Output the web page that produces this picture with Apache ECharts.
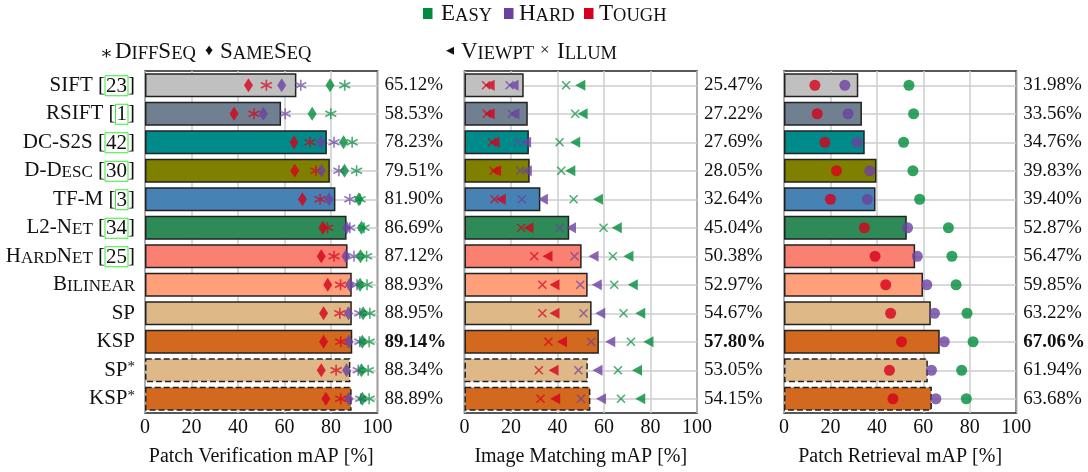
<!DOCTYPE html>
<html><head><meta charset="utf-8">
<script src="https://cdn.jsdelivr.net/npm/echarts@6/dist/echarts.min.js"></script>
<style>html,body{margin:0;padding:0;background:#fff}#c{width:1088px;height:472px}</style>
</head><body><div id="c"></div>
<script>
// ---------- data ----------
const methods = ['SIFT','RSIFT','DC-S2S','D-Desc','TF-M','L2-Net','HardNet','Bilinear','SP','KSP','SP*','KSP*'];
const cites = ['23','1','42','30','3','34','25','','','','',''];
const boldRow = 'KSP';
const xTicks = [0,20,40,60,80,100];

// Patch verification
const pvMean = [65.12,58.53,78.23,79.51,81.90,86.69,87.12,88.93,88.95,89.14,88.34,88.89];
const pvDiffEasy  = [85.9,79.9,89.1,91.0,92.5,94.2,95.3,95.5,96.7,96.4,96.0,96.4];
const pvDiffHard  = [67.0,60.3,81.3,83.4,88.1,88.1,89.9,91.2,92.4,92.4,91.7,92.8];
const pvDiffTough = [52.2,46.9,71.0,73.5,75.3,78.5,81.3,84.1,83.8,84.2,82.2,84.2];
const pvSameEasy  = [79.6,71.9,85.4,85.8,92.0,93.1,92.7,92.5,93.8,93.5,93.1,93.5];
const pvSameHard  = [58.8,50.9,75.6,75.9,79.2,86.7,86.4,88.0,87.5,87.7,86.7,87.7];
const pvSameTough = [44.5,38.3,64.1,64.4,67.7,76.5,75.8,78.6,76.8,76.8,75.8,77.8];

// Image matching
const imMean = [25.47,27.22,27.69,28.05,32.64,45.04,50.38,52.97,54.67,57.80,53.05,54.15];
const imViewEasy   = [49.8,50.8,47.6,45.5,57.4,65.5,70.5,72.4,75.6,79.1,74.2,75.6];
const imViewHard   = [21.1,21.5,26.5,26.8,33.7,45.8,55.5,56.9,58.4,62.7,57.2,58.7];
const imViewTough  = [10.8,10.8,12.9,13.6,15.6,27.5,35.7,38.7,38.7,41.9,38.3,39.0];
const imIllumEasy  = [43.7,47.6,40.9,41.6,46.9,59.8,63.8,64.4,68.4,71.6,66.0,67.3];
const imIllumHard  = [19.4,20.4,22.8,24.0,24.7,40.9,47.3,49.8,51.2,54.5,49.0,50.1];
const imIllumTough = [9.3,9.6,11.8,12.5,12.9,24.4,30.0,33.5,33.5,36.1,32.0,32.7];

// Patch retrieval
const prMean  = [31.98,33.56,34.76,39.83,39.40,52.87,56.47,59.85,63.22,67.06,61.94,63.68];
const prEasy  = [53.8,55.8,51.5,55.5,58.4,70.8,72.3,74.1,78.8,81.4,76.5,78.5];
const prHard  = [26.2,27.6,31.5,36.9,35.9,53.2,57.4,61.5,64.8,69.0,63.5,65.4];
const prTough = [13.3,14.3,17.6,22.6,20.0,34.6,39.2,43.8,45.9,50.6,45.4,46.9];

const axisNames = ['Patch Verification mAP [%]','Image Matching mAP [%]','Patch Retrieval mAP [%]'];

// ---------- styles ----------
const FONT = "'Liberation Serif','DejaVu Serif',serif";
const C_EASY = '#008c3a', C_HARD = '#6a41a0', C_TOUGH = '#d6001c';
const barColors = ['#c0c0c0','#708090','#008b8b','#808000','#4682b4','#2e8b57','#fa8072','#ffa07a','#deb887','#d2691e','#deb887','#d2691e'];
const GRID = '#cdcdcd';
const ASTER = 'path://M5,0L5,10M0.67,2.5L9.33,7.5M0.67,7.5L9.33,2.5';
const CROSS = 'path://M0,0L10,10M0,10L10,0';

function smallCaps(s){
  let star = false;
  if (s.endsWith('*')) { star = true; s = s.slice(0,-1); }
  const toks = s.match(/[a-z]+|[^a-z]+/g) || [];
  let out = toks.map(t => /^[a-z]+$/.test(t) ? '{s|'+t.toUpperCase()+'}' : '{n|'+t+'}').join('');
  if (star) out += '{sup|*}';
  return out;
}

const grids = [
  {left:145, top:71, width:232.5, height:344},
  {left:464.5, top:71, width:232.5, height:344},
  {left:784, top:71, width:233, height:344}
];
const means = [pvMean, imMean, prMean];

const xAxes = grids.map((g,i)=>({
  gridIndex:i, type:'value', min:xTicks[0], max:xTicks[xTicks.length-1], interval:20,
  axisLine:{show:false}, axisTick:{show:false},
  axisLabel:{fontFamily:FONT, fontSize:20, color:'#111', margin:5},
  splitLine:{show:true, lineStyle:{color:GRID, width:1.5}},
  name:axisNames[i], nameLocation:'middle', nameGap:34,
  nameTextStyle:{fontFamily:FONT, fontSize:20, color:'#111'}
}));

const richLeft = {
  n:{fontFamily:FONT, fontSize:21, color:'#111', verticalAlign:'bottom'},
  s:{fontFamily:FONT, fontSize:17, color:'#111', verticalAlign:'bottom'},
  c:{fontFamily:FONT, fontSize:21, color:'#111', borderColor:'#33ee33', borderWidth:1, padding:[0,1,-1,1], lineHeight:18, verticalAlign:'bottom'},
  sup:{fontFamily:FONT, fontSize:15, color:'#111', verticalAlign:'top'}
};

const yAxes = [];
grids.forEach((g,i)=>{
  yAxes.push({
    gridIndex:i, type:'category', inverse:true, data:methods,
    axisLine:{show:false}, axisTick:{show:false},
    splitLine:{show:true, interval:0, alignWithLabel:true, lineStyle:{color:GRID, width:1.5}},
    axisLabel:{show:i===0, interval:0, margin:10, rich:richLeft,
      formatter:(v,idx)=>{
        let t = smallCaps(v);
        if (cites[idx]) t += '{n| [}{c|'+cites[idx]+'}{n|]}';
        return t;
      }}
  });
  yAxes.push({
    gridIndex:i, type:'category', inverse:true, position:'right',
    data:means[i].map(v=>v.toFixed(2)+'%'),
    axisLine:{show:false}, axisTick:{show:false}, splitLine:{show:false},
    axisLabel:{interval:0, margin:7,
      rich:{n:{fontFamily:FONT, fontSize:19, color:'#111'}, b:{fontFamily:FONT, fontSize:19, color:'#111', fontWeight:'bold'}},
      formatter:(v,idx)=> methods[idx]===boldRow ? '{b|'+v+'}' : '{n|'+v+'}'}
  });
});

const series = [];
means.forEach((m,i)=>{
  series.push({
    type:'bar', xAxisIndex:i, yAxisIndex:2*i, barWidth:24, silent:true, z:2,
    data:m.map((v,k)=>({value:v, itemStyle:{color:barColors[k], borderColor:'#222', borderWidth:1.5,
      borderType: methods[k].endsWith('*') ? 'dashed' : 'solid'}}))
  });
});
function sc(g, arr, symbol, size, color, extra){
  series.push(Object.assign({
    type:'scatter', xAxisIndex:g, yAxisIndex:2*g, silent:true, z:3,
    data:arr.map((v,k)=>[v,k]), symbol:symbol, symbolSize:size,
    itemStyle:{color:color}
  }, extra||{}));
}
const strokeStyle = c => ({itemStyle:{color:'none', borderColor:c, borderWidth:1.6, opacity:0.7}});
// panel 1
sc(0, pvDiffTough, ASTER, 11, C_TOUGH, strokeStyle(C_TOUGH));
sc(0, pvDiffHard,  ASTER, 11, C_HARD, strokeStyle(C_HARD));
sc(0, pvDiffEasy,  ASTER, 11, C_EASY, strokeStyle(C_EASY));
sc(0, pvSameTough, 'diamond', [9,14], C_TOUGH);
sc(0, pvSameHard,  'diamond', [9,14], C_HARD);
sc(0, pvSameEasy,  'diamond', [9,14], C_EASY);
// panel 2
sc(1, imIllumTough, CROSS, 8, C_TOUGH, strokeStyle(C_TOUGH));
sc(1, imIllumHard,  CROSS, 8, C_HARD, strokeStyle(C_HARD));
sc(1, imIllumEasy,  CROSS, 8, C_EASY, strokeStyle(C_EASY));
sc(1, imViewTough, 'triangle', [11,10], C_TOUGH, {symbolRotate:90});
sc(1, imViewHard,  'triangle', [11,10], C_HARD, {symbolRotate:90});
sc(1, imViewEasy,  'triangle', [11,10], C_EASY, {symbolRotate:90});
// panel 3
sc(2, prTough, 'circle', 11, C_TOUGH);
sc(2, prHard,  'circle', 11, C_HARD);
sc(2, prEasy,  'circle', 11, C_EASY);

// ---------- legend (graphic text) ----------
const capRich = {a:{fontFamily:FONT, fontSize:23, color:'#111', verticalAlign:'bottom'}, b:{fontFamily:FONT, fontSize:18.5, color:'#111', verticalAlign:'bottom'}};
function capText(word){
  const toks = word.match(/[a-z]+|[^a-z]+/g);
  return toks.map(t=>/^[a-z]+$/.test(t)?'{b|'+t.toUpperCase()+'}':'{a|'+t+'}').join('');
}
function legText(x,y,word){
  return {type:'text', x:x, y:y, style:{text:capText(word), rich:capRich, verticalAlign:'middle', align:'left', fill:'#111', font:'23px '+FONT}};
}
function symText(x,y,ch,size){
  return {type:'text', x:x, y:y, style:{text:ch, fill:'#111', font:(size||16)+'px '+FONT, verticalAlign:'middle', align:'left'}};
}
const graphic = [
  {type:'rect', shape:{x:423, y:8, width:9.5, height:11}, style:{fill:C_EASY}},
  legText(441, 14, 'Easy'),
  {type:'rect', shape:{x:504, y:8, width:9.5, height:11}, style:{fill:C_HARD}},
  legText(519, 14, 'Hard'),
  {type:'rect', shape:{x:584, y:8, width:9.5, height:11}, style:{fill:C_TOUGH}},
  legText(599, 14, 'Tough'),
  symText(100, 54, '∗', 19),
  legText(115, 52, 'DiffSeq'),
  symText(205, 51, '♦', 16),
  legText(220, 52, 'SameSeq'),
  symText(446, 51, '◂', 16),
  legText(461, 52, 'Viewpt'),
  symText(540, 51, '×', 17),
  legText(557, 52, 'Illum')
];

const chart = echarts.init(document.getElementById('c'), null, {renderer:'canvas'});
chart.setOption({
  animation:false, backgroundColor:'#fff',
  grid:grids.map(g=>Object.assign({show:true, borderColor:'#222', borderWidth:1.5, backgroundColor:'#fff', containLabel:false}, g)),
  xAxis:xAxes, yAxis:yAxes, series:series, graphic:graphic
});
</script></body></html>
